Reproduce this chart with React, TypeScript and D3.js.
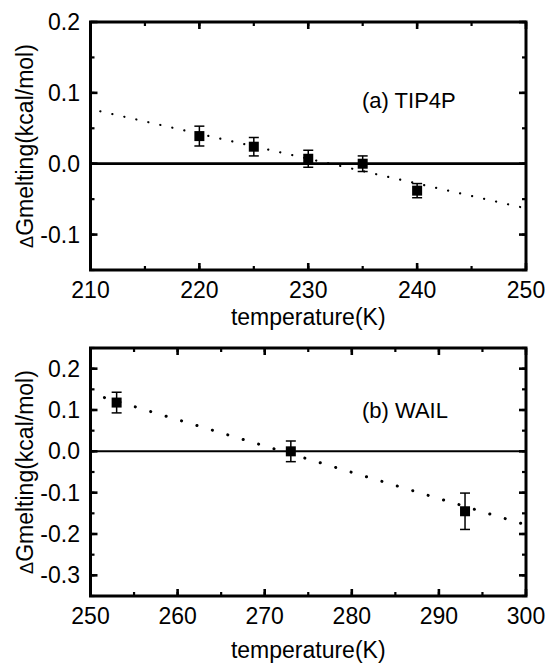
import React from 'react';
import * as d3 from 'd3';

// panel (a) TIP4P
const tip4pT = [220, 225, 230, 235, 240];
const tip4pG = [0.039, 0.024, 0.007, 0.0, -0.038];
const tip4pErr = [0.014, 0.013, 0.012, 0.011, 0.01];
const tip4pFitT = [210.9, 250];
const tip4pFitG = [0.074, -0.063];
const tip4pXTicks = [210, 220, 230, 240, 250];
const tip4pYTicks = [-0.1, 0.0, 0.1, 0.2];

// panel (b) WAIL
const wailT = [253, 273, 293];
const wailG = [0.118, 0.0, -0.145];
const wailErr = [0.025, 0.025, 0.044];
const wailFitT = [251.6, 300];
const wailFitG = [0.13, -0.178];
const wailXTicks = [250, 260, 270, 280, 290, 300];
const wailYTicks = [-0.3, -0.2, -0.1, 0.0, 0.1, 0.2];

const FONT = '"Liberation Sans", Arial, sans-serif';

type PanelProps = {
  top: number;
  bottom: number;
  xDomain: [number, number];
  yDomain: [number, number];
  xTicks: number[];
  yTicks: number[];
  xs: number[];
  ys: number[];
  errs: number[];
  fitX: number[];
  fitY: number[];
  label: string;
  labelY: number;
  titleY: number;
  dotW: number;
  dotGap: number;
  zeroW: number;
};

function Panel(p: PanelProps) {
  const left = 90.5;
  const right = 526;
  const x = d3.scaleLinear().domain(p.xDomain).range([left, right]);
  const y = d3.scaleLinear().domain(p.yDomain).range([p.bottom, p.top]);

  const xMinor = d3.range(p.xDomain[0], p.xDomain[1] + 0.001, 5);
  const yMinor = d3.range(Math.round(p.yDomain[0] * 100), Math.round(p.yDomain[1] * 100) + 1, 5).map(v => v / 100);
  const majorLen = 7;
  const minorLen = 4;

  const fitLine = d3.line<number>()
    .x((_, i) => x(p.fitX[i]))
    .y(d => y(d));

  // plain hyphen for negatives, like the original figure
  const fmt = (v: number) => d3.format('.1f')(v).replace('\u2212', '-');
  const cy = (p.top + p.bottom) / 2;

  return (
    <g>
      {/* zero line */}
      <line x1={left} x2={right} y1={y(0)} y2={y(0)} stroke="#000" strokeWidth={p.zeroW} />

      {/* dotted fit */}
      <path d={fitLine(p.fitY) || ''} fill="none" stroke="#000" strokeWidth={p.dotW}
        strokeLinecap="round" strokeDasharray={`0.1 ${p.dotGap}`} />

      {/* error bars + markers */}
      {p.xs.map((t, i) => {
        const px = x(t);
        const y1 = y(p.ys[i] + p.errs[i]);
        const y2 = y(p.ys[i] - p.errs[i]);
        return (
          <g key={i}>
            <line x1={px} x2={px} y1={y1} y2={y2} stroke="#000" strokeWidth={1.5} />
            <line x1={px - 5} x2={px + 5} y1={y1} y2={y1} stroke="#000" strokeWidth={1.5} />
            <line x1={px - 5} x2={px + 5} y1={y2} y2={y2} stroke="#000" strokeWidth={1.5} />
            <rect x={px - 5} y={y(p.ys[i]) - 5} width={10} height={10} fill="#000" />
          </g>
        );
      })}

      {/* minor ticks */}
      {xMinor.map((v, i) => (
        <g key={'xm' + i}>
          <line x1={x(v)} x2={x(v)} y1={p.bottom} y2={p.bottom - minorLen} stroke="#000" strokeWidth={2.2} />
          <line x1={x(v)} x2={x(v)} y1={p.top} y2={p.top + minorLen} stroke="#000" strokeWidth={2.2} />
        </g>
      ))}
      {yMinor.map((v, i) => (
        <g key={'ym' + i}>
          <line x1={left} x2={left + minorLen} y1={y(v)} y2={y(v)} stroke="#000" strokeWidth={2.2} />
          <line x1={right} x2={right - minorLen} y1={y(v)} y2={y(v)} stroke="#000" strokeWidth={2.2} />
        </g>
      ))}

      {/* major ticks + labels */}
      {p.xTicks.map(v => (
        <g key={'x' + v}>
          <line x1={x(v)} x2={x(v)} y1={p.bottom} y2={p.bottom - majorLen} stroke="#000" strokeWidth={2.6} />
          <line x1={x(v)} x2={x(v)} y1={p.top} y2={p.top + majorLen} stroke="#000" strokeWidth={2.6} />
          <text x={x(v)} y={p.bottom + 28} textAnchor="middle" fontSize={23} fontFamily={FONT}>{v}</text>
        </g>
      ))}
      {p.yTicks.map(v => (
        <g key={'y' + v}>
          <line x1={left} x2={left + majorLen} y1={y(v)} y2={y(v)} stroke="#000" strokeWidth={2.6} />
          <line x1={right} x2={right - majorLen} y1={y(v)} y2={y(v)} stroke="#000" strokeWidth={2.6} />
          <text x={80} y={y(v) + 8} textAnchor="end" fontSize={23} fontFamily={FONT}>{fmt(v)}</text>
        </g>
      ))}

      {/* frame */}
      <rect x={left} y={p.top} width={right - left} height={p.bottom - p.top} fill="none" stroke="#000" strokeWidth={3} />

      {/* panel label */}
      <text x={362} y={p.labelY} fontSize={22} fontFamily={FONT}>{p.label}</text>

      {/* axis titles */}
      <text x={(left + right) / 2} y={p.titleY} textAnchor="middle" fontSize={23} fontFamily={FONT}>temperature(K)</text>
      <text transform={`translate(33,${cy}) rotate(-90)`} textAnchor="middle" fontSize={23} fontFamily={FONT}>
        <tspan fontSize={18}>Δ</tspan>Gmelting(kcal/mol)
      </text>
    </g>
  );
}

export default function App() {
  return (
    <svg width={549} height={665} style={{ position: 'absolute', left: 0, top: 0, background: '#fff' }}>
      <Panel top={22} bottom={270} xDomain={[210, 250]} yDomain={[-0.15, 0.2]}
        xTicks={tip4pXTicks} yTicks={tip4pYTicks}
        xs={tip4pT} ys={tip4pG} errs={tip4pErr} fitX={tip4pFitT} fitY={tip4pFitG}
        label="(a) TIP4P" labelY={108} titleY={325} dotW={2.2} dotGap={12.2} zeroW={2.7} />
      <Panel top={348} bottom={596} xDomain={[250, 300]} yDomain={[-0.35, 0.25]}
        xTicks={wailXTicks} yTicks={wailYTicks}
        xs={wailT} ys={wailG} errs={wailErr} fitX={wailFitT} fitY={wailFitG}
        label="(b) WAIL" labelY={418} titleY={658} dotW={3} dotGap={16} zeroW={2} />
    </svg>
  );
}
